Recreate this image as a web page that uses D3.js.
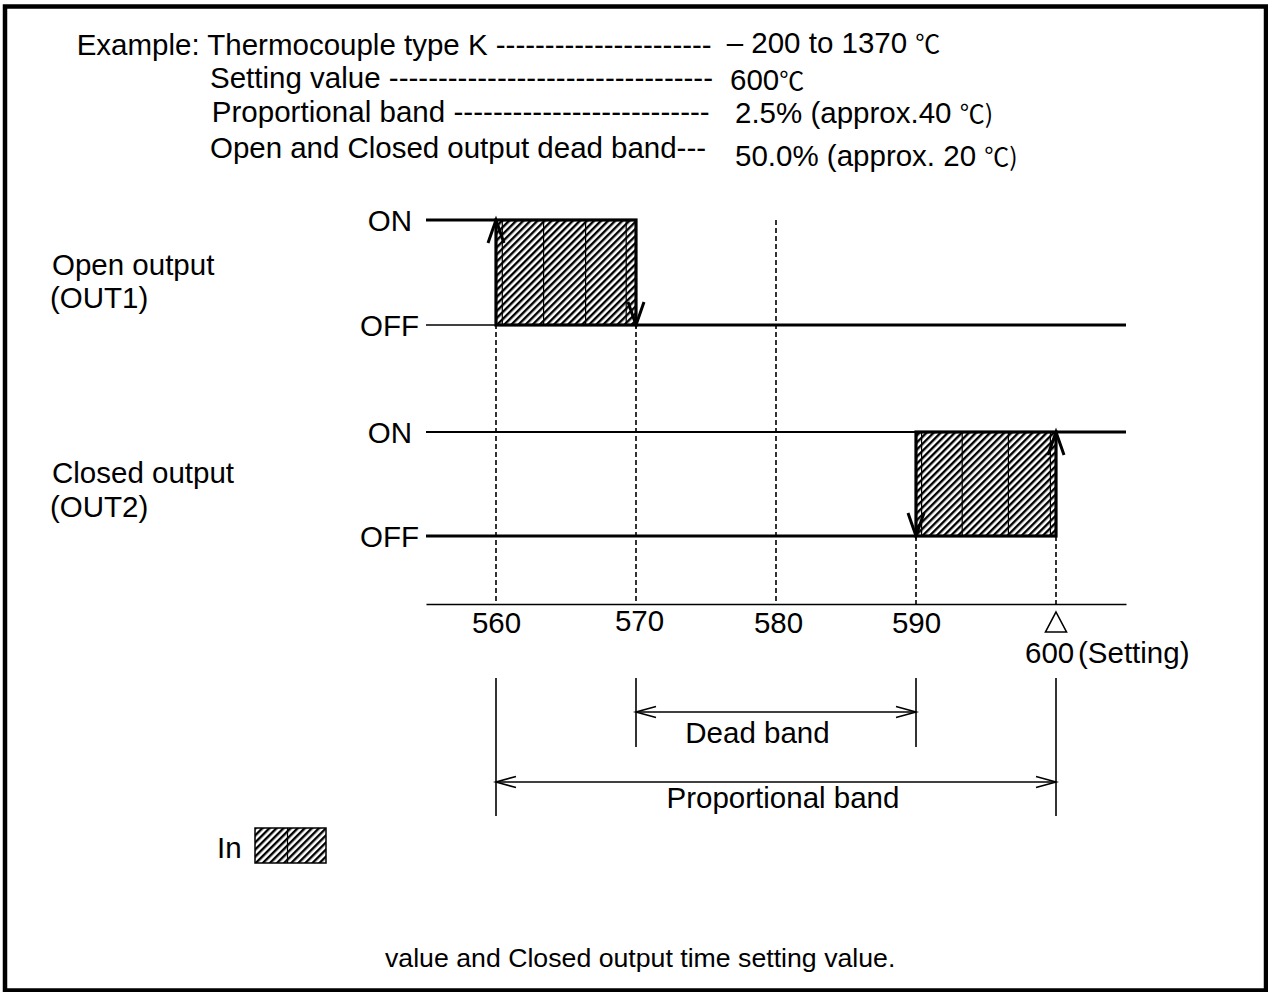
<!DOCTYPE html>
<html>
<head>
<meta charset="utf-8">
<script src="https://cdn.jsdelivr.net/npm/d3@7/dist/d3.min.js"></script>
<style>
  html, body { margin: 0; padding: 0; background: #fff; }
  svg { display: block; }
  text { font-family: "Liberation Sans", Arial, sans-serif; font-size: 29.5px; fill: #000; }
</style>
</head>
<body>
<svg id="chart" width="1268" height="992"></svg>
<script>
// ---- values ----
const headerLabels = [
  "Example: Thermocouple type K ----------------------",
  "Setting value ---------------------------------",
  "Proportional band --------------------------",
  "Open and Closed output dead band---"
];
const headerValues = [
  ["\u2013 200 to 1370 ", "\u2103"],
  ["600", "\u2103"],
  ["2.5% (approx.40 ", "\u2103)"],
  ["50.0% (approx. 20 ", "\u2103)"]
];
const tickValues = [560, 570, 580, 590];
const settingValue = 600;
const axisDomain = [555, 605];
const openOnRange = [560, 570];      // OUT1 ON span (°C)
const closedOnRange = [590, 600];    // OUT2 ON span (°C)
const openDivisions = [560.45, 563.4, 566.4, 569.3];
const closedDivisions = [590.4, 593.3, 596.6, 599.6];
const deadBand = [570, 590];
const proportionalBand = [560, 600];
const guideLines = [
  { v: 560, from: "out1On" }, { v: 570, from: "out1On" }, { v: 580, from: "out1On" },
  { v: 590, from: "out2On" }, { v: 600, from: "out2On" }
];

const svg = d3.select("#chart");

// ---- scales ----
const x = d3.scaleLinear().domain(axisDomain).range([426, 1126]);
const y = d3.scaleOrdinal()
  .domain(["out1On", "out1Off", "out2On", "out2Off", "axis"])
  .range([220, 325, 432, 536, 604]);

// ---- hatch pattern ----
const defs = svg.append("defs");
const pat = defs.append("pattern")
  .attr("id", "hatch").attr("patternUnits", "userSpaceOnUse")
  .attr("width", 5).attr("height", 5)
  .attr("patternTransform", "rotate(45)");
pat.append("rect").attr("width", 5).attr("height", 5).attr("fill", "#fff");
pat.append("line").attr("x1", 1.2).attr("x2", 1.2).attr("y1", 0).attr("y2", 5)
  .attr("stroke", "#000").attr("stroke-width", 2.4);

// ---- frame ----
svg.append("rect").attr("x", 5).attr("y", 6.5).attr("width", 1261).attr("height", 984)
  .attr("fill", "none").attr("stroke", "#000").attr("stroke-width", 4.5);

// ---- header ----
const headerX = [76.7, 210, 211.7, 210];
const headerY = [55, 88, 122, 158];
const headerLen = [635, 503, 498, 496];
svg.append("g").selectAll("text").data(headerLabels).join("text")
  .attr("x", (d, i) => headerX[i]).attr("y", (d, i) => headerY[i])
  .attr("textLength", (d, i) => headerLen[i]).attr("lengthAdjust", "spacing")
  .text(d => d);

const valX = [726.7, 730, 735, 735];
const valY = [53, 90, 123, 166];
const vals = svg.append("g").selectAll("text").data(headerValues).join("text")
  .attr("x", (d, i) => valX[i]).attr("y", (d, i) => valY[i]);
vals.append("tspan").text(d => d[0]);
vals.append("tspan").style("font-size", "25px").style("font-family", "'Noto Sans CJK JP', 'DejaVu Sans', sans-serif").text(d => d[1]);

// ---- row labels ----
const rowLabels = [
  { t: "Open output", x: 52, y: 275 }, { t: "(OUT1)", x: 50, y: 308 },
  { t: "Closed output", x: 52, y: 483 }, { t: "(OUT2)", x: 50, y: 517 }
];
svg.append("g").selectAll("text").data(rowLabels).join("text")
  .attr("x", d => d.x).attr("y", d => d.y).text(d => d.t);

const levelLabels = [
  { t: "ON", k: "out1On", end: 412 }, { t: "OFF", k: "out1Off", end: 419 },
  { t: "ON", k: "out2On", end: 412 }, { t: "OFF", k: "out2Off", end: 419 }
];
svg.append("g").selectAll("text").data(levelLabels).join("text")
  .attr("x", d => d.end).attr("y", d => y(d.k) + 10.5)
  .attr("text-anchor", "end").text(d => d.t);

// ---- dashed guides ----
svg.append("g").selectAll("line").data(guideLines).join("line")
  .attr("x1", d => x(d.v)).attr("x2", d => x(d.v))
  .attr("y1", d => y(d.from)).attr("y2", y("axis"))
  .attr("stroke", "#000").attr("stroke-width", 1.6).attr("stroke-dasharray", "5,3");

// ---- signal levels ----
const levels = [
  { k: "out1On", a: axisDomain[0], b: openOnRange[0], w: 3.2 },
  { k: "out1Off", a: axisDomain[0], b: openOnRange[0], w: 1.6 },
  { k: "out1Off", a: openOnRange[1], b: axisDomain[1], w: 3.2 },
  { k: "out2On", a: axisDomain[0], b: closedOnRange[0], w: 1.8 },
  { k: "out2On", a: closedOnRange[1], b: axisDomain[1], w: 3.2 },
  { k: "out2Off", a: axisDomain[0], b: closedOnRange[0], w: 3.2 }
];
svg.append("g").selectAll("line").data(levels).join("line")
  .attr("x1", d => x(d.a)).attr("x2", d => x(d.b))
  .attr("y1", d => y(d.k)).attr("y2", d => y(d.k))
  .attr("stroke", "#000").attr("stroke-width", d => d.w);

// ---- ON blocks ----
const blocks = [
  { r: openOnRange, top: "out1On", bot: "out1Off", div: openDivisions },
  { r: closedOnRange, top: "out2On", bot: "out2Off", div: closedDivisions }
];
const bg = svg.append("g");
blocks.forEach(b => {
  const g = bg.append("g");
  g.append("rect")
    .attr("x", x(b.r[0])).attr("y", y(b.top))
    .attr("width", x(b.r[1]) - x(b.r[0])).attr("height", y(b.bot) - y(b.top))
    .attr("fill", "url(#hatch)");
  g.selectAll("line").data(b.div).join("line")
    .attr("x1", d => x(d)).attr("x2", d => x(d))
    .attr("y1", y(b.top)).attr("y2", y(b.bot))
    .attr("stroke", "#000").attr("stroke-width", 1.2);
  g.append("rect")
    .attr("x", x(b.r[0])).attr("y", y(b.top))
    .attr("width", x(b.r[1]) - x(b.r[0])).attr("height", y(b.bot) - y(b.top))
    .attr("fill", "none").attr("stroke", "#000").attr("stroke-width", 3.2);
});

// ---- transition arrows ----
const transitions = [
  { v: openOnRange[0], k: "out1On", dir: -1 },
  { v: openOnRange[1], k: "out1Off", dir: 1 },
  { v: closedOnRange[0], k: "out2Off", dir: 1 },
  { v: closedOnRange[1], k: "out2On", dir: -1 }
];
svg.append("g").selectAll("path").data(transitions).join("path")
  .attr("d", d => {
    const cx = x(d.v), cy = y(d.k);
    return `M${cx - 8},${cy - d.dir * 23}L${cx},${cy}L${cx + 8},${cy - d.dir * 23}`;
  })
  .attr("fill", "none").attr("stroke", "#000").attr("stroke-width", 3);

// ---- axis ----
const axis = svg.append("g").attr("transform", `translate(0,${y("axis")})`)
  .call(d3.axisBottom(x).tickValues(tickValues).tickSize(0).tickSizeOuter(0).tickPadding(8));
axis.attr("font-size", null).attr("font-family", null);
axis.select(".domain").attr("stroke", "#000").attr("stroke-width", 1.6);
axis.selectAll(".tick text").style("font-size", "29.5px").attr("fill", "#000")
  .attr("dx", d => d === 570 ? 3 : (d === 580 ? 2 : 0))
  .attr("y", d => d === 570 ? 6 : 8);

// setting marker
const sx = x(settingValue);
svg.append("path")
  .attr("d", `M${sx},612L${sx + 10.5},632L${sx - 10.5},632Z`)
  .attr("fill", "none").attr("stroke", "#000").attr("stroke-width", 1.6);
svg.append("text").attr("x", sx - 31).attr("y", 663).text(String(settingValue));
svg.append("text").attr("x", sx + 22).attr("y", 663).text("(Setting)");

// ---- band dimensions ----
const bands = [
  { r: deadBand, y: 712, top: 678, bot: 747, label: "Dead band", ly: 743, lx: 757.5 },
  { r: proportionalBand, y: 782, top: 678, bot: 816, label: "Proportional band", ly: 808, lx: 783 }
];
const dg = svg.append("g");
bands.forEach(b => {
  const x0 = x(b.r[0]), x1 = x(b.r[1]);
  b.r.forEach(v => dg.append("line")
    .attr("x1", x(v)).attr("x2", x(v)).attr("y1", b.top).attr("y2", b.bot)
    .attr("stroke", "#000").attr("stroke-width", 1.6));
  dg.append("line").attr("x1", x0).attr("x2", x1).attr("y1", b.y).attr("y2", b.y)
    .attr("stroke", "#000").attr("stroke-width", 1.6);
  dg.append("path")
    .attr("d", `M${x0 + 20},${b.y - 5.5}L${x0},${b.y}L${x0 + 20},${b.y + 5.5}M${x1 - 20},${b.y - 5.5}L${x1},${b.y}L${x1 - 20},${b.y + 5.5}`)
    .attr("fill", "none").attr("stroke", "#000").attr("stroke-width", 1.6);
  dg.append("text").attr("x", b.lx).attr("y", b.ly)
    .attr("text-anchor", "middle").text(b.label);
});

// ---- legend ----
svg.append("text").attr("x", 217).attr("y", 858).text("In");
svg.append("rect").attr("x", 255).attr("y", 828).attr("width", 71).attr("height", 35)
  .attr("fill", "url(#hatch)").attr("stroke", "#000").attr("stroke-width", 1.5);
svg.append("line").attr("x1", 287.5).attr("x2", 287.5).attr("y1", 828).attr("y2", 863)
  .attr("stroke", "#000").attr("stroke-width", 1.2);

// ---- footer ----
svg.append("text").attr("x", 385).attr("y", 967).style("font-size", "26.7px")
  .text("value and Closed output time setting value.");
</script>
</body>
</html>
